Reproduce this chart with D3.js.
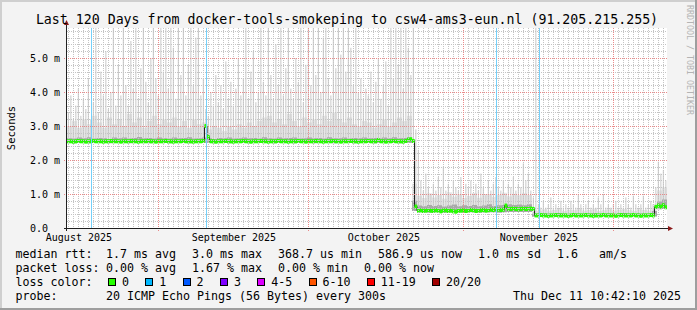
<!DOCTYPE html>
<html>
<head>
<meta charset="utf-8">
<script src="https://cdn.jsdelivr.net/npm/d3@7"></script>
<style>
body { margin: 0; background: #f3f3f3; }
svg { display: block; }
text { font-family: "DejaVu Sans Mono", monospace; fill: #000; white-space: pre; }
</style>
</head>
<body>
<div id="graph"></div>
<script>
// ---- data ----
var startTime = Date.UTC(2025, 7, 13, 17, 40),
    endTime = Date.UTC(2025, 11, 11, 17, 40);

// median rtt in ms, one value per 12 h step
var median = [
  2.55,2.55,2.54,2.55,2.56,2.55,2.55,2.54,2.55,2.55,
  2.56,2.55,2.55,2.55,2.54,2.55,2.55,2.56,2.55,2.55,
  2.55,2.54,2.55,2.55,2.55,2.56,2.55,2.55,2.54,2.55,
  2.55,2.55,2.56,2.55,2.55,2.54,2.55,2.55,2.55,2.56,
  2.55,2.55,2.54,2.55,2.55,2.55,2.56,2.55,2.55,2.55,
  2.54,2.55,2.55,2.55,
  2.56,3.00,2.68,2.55,
  2.55,2.54,2.55,2.55,2.55,2.56,2.55,2.55,2.54,2.55,
  2.55,2.55,2.56,2.55,2.55,2.54,2.55,2.55,2.55,2.56,
  2.55,2.55,2.54,2.55,2.55,2.55,2.56,2.55,2.55,2.55,
  2.54,2.55,2.55,2.55,2.56,2.55,2.55,2.54,2.55,2.55,
  2.55,2.56,2.55,2.55,2.54,2.55,2.55,2.55,2.56,2.55,
  2.55,2.54,2.55,2.55,2.55,2.56,2.55,2.55,2.54,2.55,
  2.55,2.55,2.56,2.55,2.55,2.55,
  2.59,
  2.55,2.55,2.54,2.55,2.55,2.56,2.55,2.55,2.55,2.54,2.56,
  2.60,2.61,2.56,0.63,
  0.51,0.52,0.50,0.51,0.53,0.51,0.50,0.52,0.51,0.49,
  0.51,0.52,0.50,0.51,0.49,0.48,0.50,0.51,0.52,0.50,
  0.51,0.53,0.52,0.50,0.51,0.52,0.53,0.51,0.52,0.54,
  0.53,0.55,0.54,0.53,0.54,
  0.66,
  0.56,0.56,0.57,0.56,0.55,0.56,0.57,0.56,0.56,0.57,0.56,
  0.37,0.37,0.38,0.37,0.37,0.36,0.37,0.37,0.38,0.37,
  0.37,0.37,0.37,0.36,0.37,0.38,0.37,0.37,0.37,0.37,
  0.38,0.37,0.37,0.36,0.37,0.37,0.37,0.38,0.37,0.37,
  0.37,0.37,0.36,0.37,0.38,0.37,0.37,0.37,0.37,0.38,
  0.37,0.37,0.36,0.37,0.37,0.37,0.38,0.37,
  0.62,0.66,0.63,0.67,0.61
];

// slowest ping of each 12 h step (the thin smoke spikes), ms
var spikes = [
  3.4,3.9,3.2,3.6,4.1,3.3,3.8,3.5,4.4,3.2,
  3.7,5.9,3.4,4.6,3.9,5.2,3.5,4.0,5.9,3.6,
  4.8,3.9,5.9,4.2,3.6,5.5,4.1,5.9,3.8,4.7,
  5.9,4.3,3.7,5.0,5.9,4.4,3.9,5.9,4.6,5.9,
  4.1,5.9,5.3,3.8,5.9,4.5,5.9,3.9,4.8,5.9,
  4.2,5.6,5.9,3.9,4.4,3.5,3.3,4.0,3.6,4.5,
  3.7,4.2,3.5,4.9,3.8,4.3,3.6,4.1,5.0,3.9,
  4.4,5.9,3.8,4.6,5.2,3.7,4.0,5.9,4.3,3.9,
  5.9,4.5,3.8,5.4,4.2,5.9,3.9,4.7,5.9,4.1,
  3.8,5.0,4.3,5.9,3.7,4.8,5.9,4.2,5.9,4.5,
  5.9,4.0,5.6,5.9,4.4,3.9,5.9,4.7,5.9,5.1,
  5.9,4.6,5.9,5.3,4.2,5.9,4.0,4.4,3.8,4.1,
  3.9,4.6,3.7,4.3,5.0,3.8,4.2,4.9,3.6,5.9,
  4.4,5.9,4.8,5.9,4.1,5.9,5.3,4.5,
  5.9,2.9,
  2.3,1.4,1.1,1.6,1.2,1.0,1.3,1.1,1.5,1.2,
  1.8,1.1,1.3,1.0,1.4,1.2,1.1,1.5,1.0,1.3,
  1.2,1.4,1.0,1.3,1.1,1.6,1.2,1.0,1.4,1.1,
  1.3,1.5,1.2,1.1,1.4,1.0,1.3,1.2,1.5,1.1,
  1.3,1.2,1.9,1.4,1.6,1.1,0.9,
  5.9,
  0.7,0.6,0.8,0.6,0.7,0.9,0.6,0.7,0.6,0.8,
  0.6,0.7,0.6,0.8,0.7,0.6,1.0,0.7,0.6,0.7,
  0.8,0.6,0.7,0.6,0.9,0.7,1.0,0.6,0.7,0.6,
  0.7,0.8,0.6,0.7,0.6,0.9,0.7,0.6,0.95,0.7,
  0.6,0.7,0.95,0.6,0.7,0.8,0.6,
  1.2,1.95,1.6,1.7,1.4
];

// daily smoke band: fastest ping, dense (dark) top, light top, ms
var smokeLo = [
  2.50,2.49,2.50,2.50,2.49,2.50,2.50,2.50,2.49,2.50,
  2.50,2.50,2.49,2.50,2.50,2.50,2.49,2.50,2.50,2.50,
  2.49,2.50,2.50,2.50,2.49,2.50,2.50,2.50,2.50,2.49,
  2.50,2.50,2.49,2.50,2.50,2.50,2.49,2.50,2.50,2.50,
  2.50,2.49,2.50,2.50,2.50,2.49,2.50,2.50,2.50,2.49,
  2.50,2.50,2.50,2.49,2.50,2.50,2.50,2.49,2.50,2.50,
  2.50,2.49,2.50,2.50,2.50,2.50,2.49,2.50,2.50,
  0.50,
  0.46,0.46,0.45,0.46,0.46,0.45,0.46,0.46,0.46,0.45,
  0.46,0.46,0.45,0.46,0.46,0.46,0.45,0.46,0.47,0.47,
  0.47,0.47,0.47,
  0.33,0.33,0.34,0.33,0.33,0.33,0.32,0.33,0.33,0.34,
  0.33,0.33,0.33,0.33,0.32,0.33,0.33,0.34,0.33,0.33,
  0.33,0.33,0.32,0.33,
  0.34,
  0.55,0.56
];
var smokeMid = [
  2.64,2.63,2.66,2.64,2.67,2.63,2.65,2.64,2.62,2.66,
  2.64,2.66,2.63,2.65,2.68,2.64,2.65,2.63,2.66,2.64,
  2.63,2.66,2.64,2.65,2.67,2.63,2.64,2.66,2.64,2.62,
  2.65,2.64,2.66,2.63,2.64,2.66,2.64,2.65,2.63,2.67,
  2.64,2.63,2.66,2.64,2.65,2.66,2.63,2.64,2.66,2.64,
  2.65,2.63,2.67,2.64,2.64,2.66,2.63,2.65,2.64,2.66,
  2.64,2.65,2.63,2.66,2.64,2.67,2.64,2.65,2.66,
  0.80,
  0.66,0.64,0.68,0.65,0.67,0.63,0.66,0.69,0.64,0.67,
  0.65,0.68,0.64,0.66,0.70,0.65,0.67,0.68,0.70,0.68,
  0.69,0.67,0.70,
  0.42,0.41,0.43,0.42,0.41,0.44,0.42,0.41,0.43,0.42,
  0.41,0.42,0.44,0.41,0.42,0.43,0.41,0.42,0.44,0.42,
  0.41,0.43,0.42,0.41,
  0.50,
  0.78,0.84
];
var smokeHi = [
  3.00,3.15,2.95,3.20,3.05,3.30,3.10,2.95,3.25,3.05,
  3.20,3.00,3.35,3.10,3.25,2.95,3.15,3.30,3.05,3.20,
  3.10,3.25,3.00,3.15,2.95,3.20,3.05,3.10,2.90,3.00,
  2.95,2.85,3.00,2.90,3.05,2.95,3.10,3.00,3.15,3.25,
  3.30,3.10,3.20,3.05,3.35,3.15,3.00,3.25,3.10,3.20,
  3.05,3.30,3.15,3.40,3.20,3.10,3.25,3.05,3.00,3.15,
  3.10,2.95,3.05,3.20,3.00,3.10,3.25,3.15,3.30,
  1.30,
  0.95,0.88,1.02,0.90,0.97,0.86,1.05,0.92,0.99,0.88,
  0.94,1.03,0.89,0.96,1.00,0.91,0.98,1.04,0.93,1.01,
  0.96,1.02,0.97,
  0.52,0.50,0.55,0.51,0.53,0.58,0.50,0.54,0.52,0.56,
  0.51,0.53,0.57,0.50,0.52,0.55,0.51,0.54,0.56,0.52,
  0.50,0.55,0.53,0.51,
  0.70,
  1.10,1.20
];

// light blue vertical rules
var ruleDates = [
  Date.UTC(2025, 7, 18, 16, 0),
  Date.UTC(2025, 8, 10, 16, 0),
  Date.UTC(2025, 10, 7, 16, 0),
  Date.UTC(2025, 10, 16, 4, 50)
];

var monthLabels = ["August 2025", "September 2025", "October 2025", "November 2025"];
var monthLabelDates = [Date.UTC(2025, 7, 16, 3), Date.UTC(2025, 8, 16, 3), Date.UTC(2025, 9, 16, 3), Date.UTC(2025, 10, 16, 3)];
var yTickValues = [0, 1, 2, 3, 4, 5];
var yTickLabels = ["0.0", "1.0 m", "2.0 m", "3.0 m", "4.0 m", "5.0 m"];

var titleText = "Last 120 Days from docker-tools-smokeping to csw4-ams3-eun.nl (91.205.215.255)";
var rttLegend = ["1.7 ms avg", "3.0 ms max", "368.7 us min", "586.9 us now", "1.0 ms sd", "1.6   am/s"];
var lossLegend = ["0.00 % avg", "1.67 % max", "0.00 % min", "0.00 % now"];
var lossColorLabels = ["0", "1", "2", "3", "4-5", "6-10", "11-19", "20/20"];
var lossColors = ["#26ff00", "#00b8ff", "#0059ff", "#7e00ff", "#dd00ff", "#ff5500", "#ff0000", "#a10000"];
var probeText = "20 ICMP Echo Pings (56 Bytes) every 300s";
var stampText = "Thu Dec 11 10:42:10 2025";

// ---- layout ----
var W = 697, H = 310,
    plotLeft = 67, plotTop = 28, plotW = 600, plotH = 200,
    HALF = 12 * 3600e3, DAY = 24 * 3600e3;

var svg = d3.select("#graph").append("svg")
    .attr("width", W)
    .attr("height", H);

svg.append("rect").attr("width", W).attr("height", H).attr("fill", "#f3f3f3");
svg.append("path").attr("d", "M1,310V1H697").attr("fill", "none").attr("stroke", "#cfcfcf").attr("stroke-width", 2);
svg.append("path").attr("d", "M0,309H696V0").attr("fill", "none").attr("stroke", "#9e9e9e").attr("stroke-width", 2);

var x = d3.scaleUtc().domain([startTime, endTime]).range([plotLeft, plotLeft + plotW]),
    y = d3.scaleLinear().domain([0, 200 / 34]).range([plotTop + plotH, plotTop]);

svg.append("rect")
    .attr("x", plotLeft).attr("y", plotTop)
    .attr("width", plotW).attr("height", plotH)
    .attr("fill", "#fff");

svg.append("clipPath").attr("id", "clip")
  .append("rect").attr("x", plotLeft).attr("y", plotTop).attr("width", plotW).attr("height", plotH);

var g = svg.append("g").attr("clip-path", "url(#clip)");

var halfSteps = median.map(function(v, i) { return {t: startTime + i * HALF, m: v, s: spikes[i]}; });
var days = smokeLo.map(function(v, i) { return {t: startTime + i * DAY, lo: v, mid: smokeMid[i], hi: smokeHi[i]}; });
days.push({t: endTime, lo: smokeLo[smokeLo.length - 1], mid: smokeMid[smokeMid.length - 1], hi: smokeHi[smokeHi.length - 1]});

var smoke = function(key) {
  return d3.area()
    .curve(d3.curveStepAfter)
    .x(function(d) { return x(d.t); })
    .y0(function(d) { return y(d.lo); })
    .y1(function(d) { return y(d[key]); });
};

g.append("path").datum(days).attr("d", smoke("hi")).attr("fill", "#e6e6e6");

g.selectAll(".spike")
    .data(halfSteps)
    .enter().append("rect")
    .attr("class", "spike")
    .attr("x", function(d) { return x(d.t) + 0.8; })
    .attr("width", 1.1)
    .attr("y", function(d) { return y(d.s); })
    .attr("height", function(d) { return Math.max(0, y(d.m) - y(d.s)); })
    .attr("fill", "#cdcdcd");

g.append("path").datum(days).attr("d", smoke("mid")).attr("fill", "#a9a9a9");

// grid
var gridG = svg.append("g").attr("shape-rendering", "crispEdges");
var px = function(v) { return Math.round(v) + 0.5; };

gridG.selectAll(".minx")
    .data(x.ticks(d3.utcDay.every(1)))
    .enter().append("line")
    .attr("x1", function(d) { return px(x(d)); }).attr("x2", function(d) { return px(x(d)); })
    .attr("y1", plotTop).attr("y2", plotTop + plotH)
    .attr("stroke", "#c4c4c4").attr("stroke-dasharray", "1,1");

gridG.selectAll(".miny")
    .data(d3.range(1, 30).map(function(k) { return k * 0.2; }).filter(function(v) { return Math.abs(v - Math.round(v)) > 0.01; }))
    .enter().append("line")
    .attr("x1", plotLeft).attr("x2", plotLeft + plotW)
    .attr("y1", function(d) { return px(y(d)); }).attr("y2", function(d) { return px(y(d)); })
    .attr("stroke", "#c4c4c4").attr("stroke-dasharray", "1,1");

gridG.selectAll(".majx")
    .data(x.ticks(d3.utcMonth.every(1)))
    .enter().append("line")
    .attr("x1", function(d) { return px(x(d)); }).attr("x2", function(d) { return px(x(d)); })
    .attr("y1", plotTop).attr("y2", plotTop + plotH + 3)
    .attr("stroke", "#e98a8a").attr("stroke-dasharray", "1,1");

gridG.selectAll(".majy")
    .data(yTickValues.slice(1))
    .enter().append("line")
    .attr("x1", plotLeft - 3).attr("x2", plotLeft + plotW)
    .attr("y1", function(d) { return px(y(d)); }).attr("y2", function(d) { return px(y(d)); })
    .attr("stroke", "#e98a8a").attr("stroke-dasharray", "1,1");

// median line and loss-colour band
var medianPts = halfSteps.concat([{t: endTime, m: median[median.length - 1]}]);
g.append("path")
    .datum(medianPts)
    .attr("d", d3.line().curve(d3.curveStepAfter).x(function(d) { return x(d.t); }).y(function(d) { return y(d.m); }))
    .attr("fill", "none")
    .attr("stroke", "#202020")
    .attr("stroke-width", 1);

g.selectAll(".band")
    .data(halfSteps)
    .enter().append("rect")
    .attr("class", "band")
    .attr("x", function(d) { return x(d.t); })
    .attr("width", x(startTime + HALF) - x(startTime) + 0.2)
    .attr("y", function(d) { return y(d.m) - 2; })
    .attr("height", 4)
    .attr("fill", lossColors[0]);

// vertical rules, on top of everything in the plot
var rules = svg.append("g").attr("class", "rules");
ruleDates.forEach(function(d) {
  var xx = Math.floor(x(d)) + 0.5;
  rules.append("path")
      .attr("d", "M" + xx + "," + plotTop + "V" + (plotTop + plotH))
      .attr("stroke", "#74d0fa")
      .attr("stroke-width", 1)
      .attr("fill", "none");
});

// axes
svg.append("line").attr("x1", plotLeft - 0.5).attr("x2", plotLeft - 0.5).attr("y1", plotTop + plotH + 3).attr("y2", plotTop - 3)
    .attr("stroke", "#202020").attr("shape-rendering", "crispEdges");
svg.append("line").attr("x1", plotLeft - 3).attr("x2", plotLeft + plotW + 2).attr("y1", plotTop + plotH + 0.5).attr("y2", plotTop + plotH + 0.5)
    .attr("stroke", "#202020").attr("shape-rendering", "crispEdges");
svg.append("path").attr("d", "M" + (plotLeft - 3) + "," + (plotTop - 3) + "L" + (plotLeft - 0.5) + "," + (plotTop - 8) + "L" + (plotLeft + 2) + "," + (plotTop - 3) + "Z")
    .attr("fill", "#8b1a1a");
svg.append("path").attr("d", "M" + (plotLeft + plotW + 1) + "," + (plotTop + plotH - 2) + "L" + (plotLeft + plotW + 6) + "," + (plotTop + plotH + 0.5) + "L" + (plotLeft + plotW + 1) + "," + (plotTop + plotH + 3) + "Z")
    .attr("fill", "#8b1a1a");

svg.selectAll(".ylab")
    .data(yTickValues)
    .enter().append("text")
    .attr("x", 30)
    .attr("y", function(d) { return y(d); })
    .attr("dy", "0.36em")
    .style("font-size", "10px")
    .text(function(d, i) { return yTickLabels[i]; });

svg.selectAll(".xlab")
    .data(monthLabelDates)
    .enter().append("text")
    .attr("x", function(d) { return x(d); })
    .attr("y", 241)
    .attr("text-anchor", "middle")
    .style("font-size", "10px")
    .text(function(d, i) { return monthLabels[i]; });

svg.append("text")
    .attr("transform", "translate(14.5,128) rotate(-90)")
    .attr("text-anchor", "middle")
    .style("font-size", "10.5px")
    .text("Seconds");

svg.append("text")
    .attr("x", 347).attr("y", 24)
    .attr("text-anchor", "middle")
    .style("font-size", "13.25px")
    .text(titleText);

svg.append("text")
    .attr("transform", "translate(687,5) rotate(90)")
    .style("font-size", "8.3px")
    .style("fill", "#b4b4b4")
    .text("RRDTOOL / TOBI OETIKER");

// legend
var legendFont = "11.63px", rowY = [257.5, 271.5, 285.5, 299.5];

function flowRow(label, items, yy) {
  svg.append("text").attr("x", 15.5).attr("y", yy).style("font-size", legendFont).text(label);
  var cursor = 106;
  items.forEach(function(s) {
    var t = svg.append("text").attr("x", cursor).attr("y", yy).style("font-size", legendFont).text(s);
    cursor += t.node().getComputedTextLength() + 16;
  });
}
flowRow("median rtt:", rttLegend, rowY[0]);
flowRow("packet loss:", lossLegend, rowY[1]);

svg.append("text").attr("x", 15.5).attr("y", rowY[2]).style("font-size", legendFont).text("loss color:");
var cursor = 108;
lossColorLabels.forEach(function(s, i) {
  svg.append("rect")
      .attr("x", Math.round(cursor) + 0.5).attr("y", 278.5)
      .attr("width", 7).attr("height", 7)
      .attr("fill", lossColors[i]).attr("stroke", "#000");
  var t = svg.append("text").attr("x", cursor + 14).attr("y", rowY[2]).style("font-size", legendFont).text(s);
  cursor += 14 + t.node().getComputedTextLength() + 16.3;
});

svg.append("text").attr("x", 15.5).attr("y", rowY[3]).style("font-size", legendFont).text("probe:");
svg.append("text").attr("x", 106).attr("y", rowY[3]).style("font-size", legendFont).text(probeText);
svg.append("text").attr("x", 681).attr("y", rowY[3]).attr("text-anchor", "end").style("font-size", legendFont).text(stampText);
</script>
</body>
</html>
